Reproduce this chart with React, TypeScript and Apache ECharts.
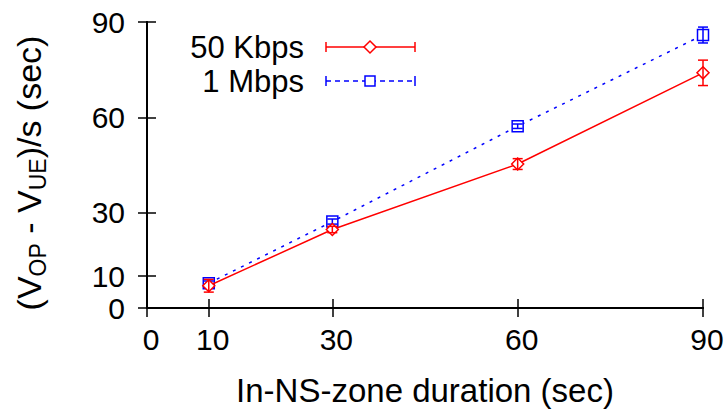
import React, { useEffect, useRef } from "react";
import * as echarts from "echarts";

const xValues = [10, 30, 60, 90];
const kbps50 = [7, 24.7, 45.3, 74];
const kbps50Err = [2, 1, 1.7, 4];
const mbps1 = [7.8, 27.2, 57.2, 85.9];
const mbps1Err = [0.7, 0.8, 0.7, 2.5];
const xTicks = [0, 10, 30, 60, 90];
const yTicks = [0, 10, 30, 60, 90];
const seriesNames = ["50 Kbps", "1 Mbps"];

const FONT = "Liberation Sans";
const RED = "#ff0000";
const BLUE = "#0000ff";

function errData(vals: number[], errs: number[]) {
  return xValues.map((x, i) => [x, vals[i] - errs[i], vals[i] + errs[i]]);
}

function errRender(color: string) {
  return (params: any, api: any) => {
    const x = api.value(0);
    const lo = api.coord([x, api.value(1)]);
    const hi = api.coord([x, api.value(2)]);
    const w = 5;
    const style = { stroke: color, lineWidth: 1.5 };
    return {
      type: "group",
      children: [
        { type: "line", shape: { x1: lo[0], y1: lo[1], x2: hi[0], y2: hi[1] }, style },
        { type: "line", shape: { x1: lo[0] - w, y1: lo[1], x2: lo[0] + w, y2: lo[1] }, style },
        { type: "line", shape: { x1: hi[0] - w, y1: hi[1], x2: hi[0] + w, y2: hi[1] }, style },
      ],
    };
  };
}

export default function App() {
  const ref = useRef<HTMLDivElement>(null);
  useEffect(() => {
    if (!ref.current) return;
    const chart = echarts.init(ref.current, null, { renderer: "svg" });
    const axisCommon = {
      type: "value",
      min: 0,
      max: 90,
      splitLine: { show: false },
      axisLine: { show: true, lineStyle: { color: "#000", width: 2 } },
    };
    const tick = (vals: number[]) => ({
      show: true,
      inside: true,
      length: 9,
      lineStyle: { color: "#000", width: 1.5 },
      customValues: vals,
    });
    const lx = 415, rx = 326, cx = 370;
    const legendItem = (y: number, color: string, dashed: boolean, name: string, square: boolean) => {
      const ls = { stroke: color, lineWidth: 1.5, lineDash: dashed ? [5, 4] : null };
      const cs = { stroke: color, lineWidth: 1.5 };
      return [
        { type: "text", x: 304, y, style: { text: name, font: `31px "${FONT}"`, fill: "#000", align: "right", verticalAlign: "middle" } },
        { type: "line", shape: { x1: rx, y1: y, x2: lx, y2: y }, style: ls },
        { type: "line", shape: { x1: rx, y1: y - 5, x2: rx, y2: y + 5 }, style: cs },
        { type: "line", shape: { x1: lx, y1: y - 5, x2: lx, y2: y + 5 }, style: cs },
        square
          ? { type: "rect", shape: { x: cx - 5, y: y - 5, width: 10, height: 10 }, style: { stroke: color, fill: "#fff", lineWidth: 1.5 } }
          : { type: "polygon", shape: { points: [[cx, y - 6], [cx + 6, y], [cx, y + 6], [cx - 6, y]] }, style: { stroke: color, fill: "#fff", lineWidth: 1.5 } },
      ];
    };
    chart.setOption({
      animation: false,
      backgroundColor: "#fff",
      grid: { left: 147, right: 25, top: 22, bottom: 102, containLabel: false },
      xAxis: [
        {
          ...axisCommon,
          position: "bottom",
          name: "In-NS-zone duration (sec)",
          nameLocation: "middle",
          nameGap: 66,
          nameTextStyle: { fontFamily: FONT, fontSize: 33, color: "#000" },
          axisTick: tick(xTicks),
          axisLabel: { show: true, fontFamily: FONT, fontSize: 30, color: "#000", margin: 16, padding: [0, 0, 0, 8], customValues: xTicks },
        },
        {
          ...axisCommon,
          position: "top",
          axisTick: tick(xTicks),
          axisLabel: { show: false },
        },
      ],
      yAxis: [
        {
          ...axisCommon,
          position: "left",
          name: "(V{sub|OP} - V{sub|UE})/s (sec)",
          nameLocation: "middle",
          nameGap: 98,
          nameRotate: 90,
          nameTextStyle: {
            fontFamily: FONT,
            fontSize: 34,
            color: "#000",
            lineHeight: 40,
            padding: [0, 16, 0, 0],
            rich: { sub: { fontFamily: FONT, fontSize: 23, lineHeight: 26, verticalAlign: "bottom", color: "#000" } },
          },
          axisTick: tick(yTicks),
          axisLabel: { show: true, fontFamily: FONT, fontSize: 30, color: "#000", margin: 22, customValues: yTicks },
        },
        {
          ...axisCommon,
          position: "right",
          axisTick: tick(yTicks),
          axisLabel: { show: false },
        },
      ],
      graphic: [...legendItem(47, RED, false, seriesNames[0], false), ...legendItem(81, BLUE, true, seriesNames[1], true)],
      series: [
        {
          name: seriesNames[1],
          type: "line",
          data: xValues.map((x, i) => [x, mbps1[i]]),
          lineStyle: { color: BLUE, width: 1.5, type: [3, 6] },
          itemStyle: { color: "#fff", borderColor: BLUE, borderWidth: 1.5 },
          symbol: "rect",
          symbolSize: 11,
          showAllSymbol: true,
          z: 3,
        },
        {
          type: "custom",
          data: errData(mbps1, mbps1Err),
          renderItem: errRender(BLUE),
          encode: { x: 0, y: [1, 2] },
          z: 4,
        },
        {
          name: seriesNames[0],
          type: "line",
          data: xValues.map((x, i) => [x, kbps50[i]]),
          lineStyle: { color: RED, width: 1.5 },
          itemStyle: { color: "#fff", borderColor: RED, borderWidth: 1.5 },
          symbol: "diamond",
          symbolSize: 12,
          showAllSymbol: true,
          z: 5,
        },
        {
          type: "custom",
          data: errData(kbps50, kbps50Err),
          renderItem: errRender(RED),
          encode: { x: 0, y: [1, 2] },
          z: 6,
        },
      ],
    });
    return () => chart.dispose();
  }, []);
  return <div ref={ref} style={{ width: 728, height: 412, position: "absolute", left: 0, top: 0 }} />;
}
